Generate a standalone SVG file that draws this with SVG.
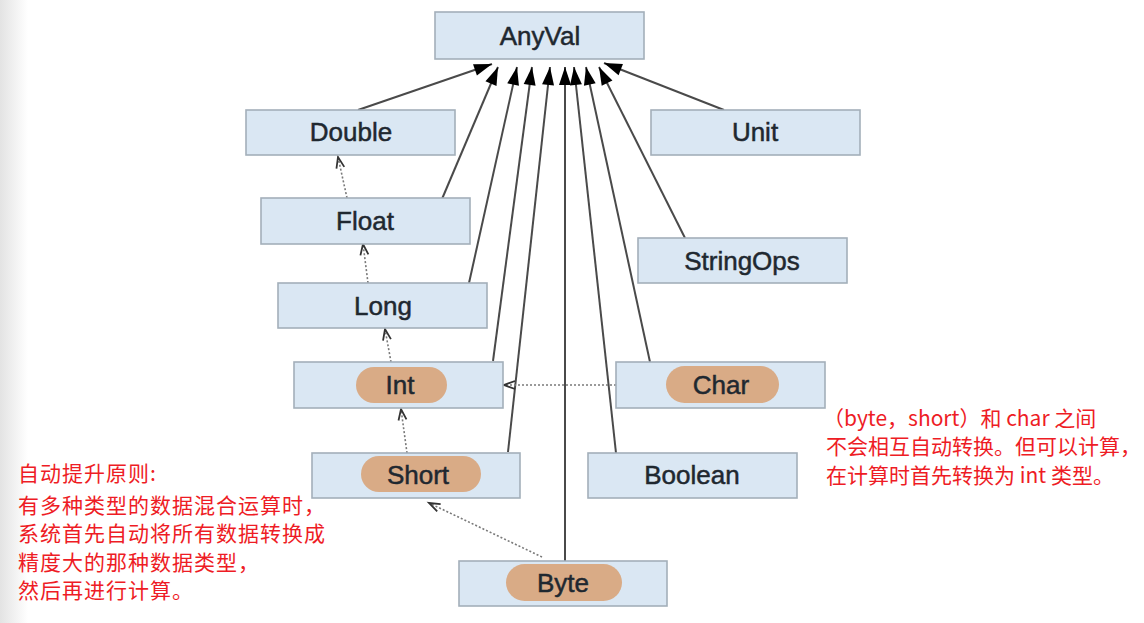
<svg xmlns="http://www.w3.org/2000/svg" width="1144" height="623" viewBox="0 0 1144 623">
<defs>
<linearGradient id="edge" x1="0" y1="0" x2="1" y2="0">
<stop offset="0" stop-color="#e3e3e3"/>
<stop offset="1" stop-color="#ffffff"/>
</linearGradient>
<marker id="solid" markerUnits="userSpaceOnUse" markerWidth="18" markerHeight="12" refX="18" refY="6" orient="auto" overflow="visible">
<path d="M0,0 L18,6 L0,12 Z" fill="#000"/>
</marker>
<marker id="open" markerUnits="userSpaceOnUse" markerWidth="13" markerHeight="10" refX="11" refY="4" orient="auto" overflow="visible">
<path d="M0,0 L11,4 L0,8" fill="none" stroke="#333" stroke-width="1.8"/>
</marker>
<style>
.box{fill:#dae7f3;stroke:#a3afba;stroke-width:1.6}
.pill{fill:#d9ab86}
.lbl{font-family:"Liberation Sans",Arial,sans-serif;font-size:26px;fill:#1f2830;text-anchor:middle;stroke:#1f2830;stroke-width:0.5}
.solid{stroke:#4a4a4a;stroke-width:2;fill:none;marker-end:url(#solid)}
.dash{stroke:#7a7a7a;stroke-width:1.6;stroke-dasharray:2 2;fill:none;marker-end:url(#open)}
.note{font-family:"Noto Sans CJK SC","Noto Sans",sans-serif;font-size:21px;letter-spacing:1px;fill:#ee1c25}
.note-r{font-family:"Noto Sans CJK SC","Noto Sans",sans-serif;font-size:21px;fill:#ee1c25}
</style>
</defs>
<rect x="0" y="0" width="1144" height="623" fill="#fff"/>
<rect x="0" y="0" width="28" height="623" fill="url(#edge)"/>

<g id="connectors">
<path class="solid" d="M358,110 L492,64"/>
<path class="solid" d="M724,110 L604,63"/>
<path class="solid" d="M442,199 L498,67"/>
<path class="solid" d="M685,238 L599,67"/>
<path class="solid" d="M469,283 L517,67"/>
<path class="solid" d="M493,361 L532,67"/>
<path class="solid" d="M650,362 L586,67"/>
<path class="solid" d="M508,452 L550,67"/>
<path class="solid" d="M616,453 L574,67"/>
<path class="solid" d="M565,561 L565,67"/>
<path class="dash" d="M347,198 L338,157"/>
<path class="dash" d="M368,283 L363,244"/>
<path class="dash" d="M391,362 L385,329"/>
<path class="dash" d="M407,453 L401,409"/>
<path class="dash" d="M542,557 L429,503"/>
<path class="dash" d="M616,385 L504,385"/>
</g>

<g id="node-anyval"><rect class="box" x="435" y="12" width="209" height="47"/><text class="lbl" x="540" y="45">AnyVal</text></g>
<g id="node-double"><rect class="box" x="246" y="110" width="209" height="45"/><text class="lbl" x="351" y="141">Double</text></g>
<g id="node-unit"><rect class="box" x="651" y="110" width="209" height="45"/><text class="lbl" x="755" y="141">Unit</text></g>
<g id="node-float"><rect class="box" x="261" y="198" width="209" height="46"/><text class="lbl" x="365" y="230">Float</text></g>
<g id="node-stringops"><rect class="box" x="638" y="238" width="209" height="45"/><text class="lbl" x="742" y="270">StringOps</text></g>
<g id="node-long"><rect class="box" x="278" y="283" width="209" height="45"/><text class="lbl" x="383" y="315">Long</text></g>
<g id="node-int"><rect class="box" x="294" y="362" width="209" height="46"/><rect class="pill" x="356" y="367" width="91" height="36" rx="18"/><text class="lbl" x="400" y="394">Int</text></g>
<g id="node-char"><rect class="box" x="616" y="362" width="209" height="46"/><rect class="pill" x="666" y="366" width="113" height="37" rx="18.5"/><text class="lbl" x="721" y="394">Char</text></g>
<g id="node-short"><rect class="box" x="312" y="453" width="208" height="45"/><rect class="pill" x="361" y="456" width="120" height="36" rx="18"/><text class="lbl" x="418" y="484">Short</text></g>
<g id="node-boolean"><rect class="box" x="588" y="453" width="209" height="45"/><text class="lbl" x="692" y="484">Boolean</text></g>
<g id="node-byte"><rect class="box" x="459" y="561" width="208" height="45"/><rect class="pill" x="506" y="564" width="116" height="37" rx="18.5"/><text class="lbl" x="563" y="592">Byte</text></g>

<g id="note-left">
<text class="note"><tspan x="18" y="481">自动提升原则:</tspan><tspan x="18" y="513">有多种类型的数据混合运算时，</tspan><tspan x="18" y="541">系统首先自动将所有数据转换成</tspan><tspan x="18" y="570">精度大的那种数据类型，</tspan><tspan x="18" y="598">然后再进行计算。</tspan></text>
</g>
<g id="note-right">
<text class="note-r"><tspan x="823" y="426">（byte，short）和 char 之间</tspan><tspan x="826" y="454">不会相互自动转换。但可以计算，</tspan><tspan x="826" y="483">在计算时首先转换为 int 类型。</tspan></text>
</g>
</svg>
